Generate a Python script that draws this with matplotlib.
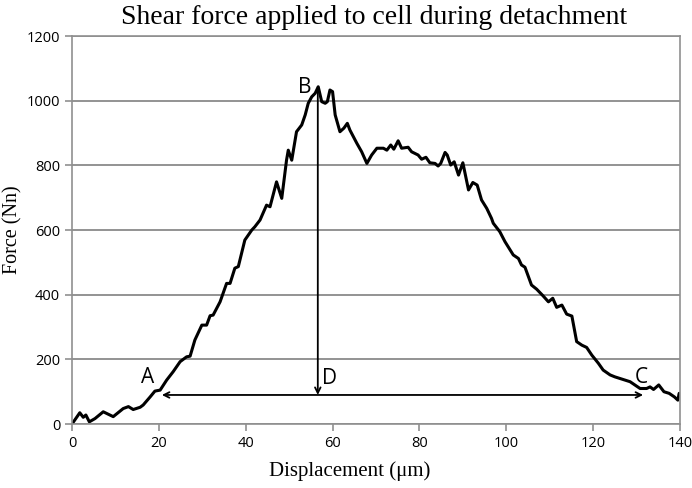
import matplotlib.pyplot as plt

# displacement (um) and force (Nn)
disp = [0, 1.8, 2.6, 3.2, 4.0, 5.3, 7.2, 8.7, 9.5, 11.8, 13.0, 14.1, 15.7, 16.4,
        18.0, 19.1, 20.3, 21.8, 23.3, 24.9, 26.4, 27.2, 28.3, 29.9, 31.0, 31.8,
        32.5, 34.1, 35.6, 36.4, 37.5, 38.3, 39.8, 41.4, 42.1, 43.3, 44.8, 45.6,
        47.1, 48.3, 49.4, 49.8, 50.6, 51.7, 52.9, 53.7, 54.4, 55.2, 56.0, 56.7,
        57.5, 58.3, 58.8, 59.4, 60.0, 60.6, 61.7, 62.6, 63.4, 64.0, 65.6, 66.7,
        67.9, 69.0, 70.2, 71.7, 72.5, 73.4, 74.1, 75.1, 75.9, 77.4, 78.2, 79.7,
        80.5, 81.5, 82.4, 83.6, 84.3, 84.9, 85.9, 86.4, 87.2, 88.0, 89.0, 90.0,
        91.3, 92.3, 93.3, 94.3, 95.5, 96.6, 97.0, 98.5, 99.7, 100.9, 101.6,
        102.8, 103.5, 104.3, 105.8, 107.0, 108.5, 109.7, 110.7, 111.6, 112.8,
        113.9, 115.1, 116.2, 117.4, 118.5, 119.7, 121.2, 122.3, 123.9, 125.0,
        126.9, 128.5, 129.6, 130.8, 132.3, 133.1, 133.9, 135.1, 136.3, 137.5,
        138.7, 139.5, 139.8, 140.0]
force = [0, 35, 21, 28, 7, 17, 38, 28, 23, 48, 54, 45, 52, 59,
         84, 102, 105, 136, 162, 193, 208, 210, 260, 306, 306, 335,
         337, 378, 435, 435, 482, 487, 569, 600, 610, 631, 677, 672,
         749, 698, 816, 847, 816, 904, 925, 956, 992, 1012, 1023, 1043,
         997, 992, 997, 1033, 1028, 956, 904, 915, 930, 909, 868, 842,
         806, 832, 853, 853, 847, 863, 850, 876, 853, 856, 842, 832,
         819, 825, 808, 806, 798, 806, 840, 832, 801, 811, 770, 808,
         724, 747, 739, 693, 667, 636, 621, 595, 564, 538, 523,
         512, 492, 485, 430, 417, 396, 378, 389, 361, 368,
         340, 334, 255, 244, 237, 213, 188, 167, 152, 146,
         138, 131, 121, 110, 110, 115, 107, 121, 100, 95,
         84, 74, 95, 90]

x_ticks = [0, 20, 40, 60, 80, 100, 120, 140]
y_ticks = [0, 200, 400, 600, 800, 1000, 1200]

# annotation points
peak_x, peak_y = 56.6, 1043
span_start, span_end, span_y = 20.7, 131.5, 90
labels = {"A": (17.5, 145), "B": (53.6, 1040), "C": (131.2, 145), "D": (59.4, 142)}

fig = plt.figure(figsize=(6.92, 4.88), dpi=100)
ax = fig.add_axes([0.104, 0.131, 0.8787, 0.7952])

ax.plot(disp, force, color="black", lw=2.2)

# vertical arrow B -> D and horizontal double arrow A <-> C
ax.annotate("", xy=(peak_x, span_y), xytext=(peak_x, peak_y),
            arrowprops=dict(arrowstyle="->", color="black", lw=1.3, shrinkA=0, shrinkB=0))
ax.annotate("", xy=(span_start, span_y), xytext=(span_end, span_y),
            arrowprops=dict(arrowstyle="<->", color="black", lw=1.3, shrinkA=0, shrinkB=0))

for name, (lx, ly) in labels.items():
    ax.text(lx, ly, name, fontsize=15, family="Open Sans", ha="center", va="center")

ax.set_xlim(0, 140)
ax.set_ylim(0, 1200)
ax.set_xticks(x_ticks)
ax.set_yticks(y_ticks)
ax.yaxis.grid(True, color="#808080", lw=1.2)
ax.set_axisbelow(True)
for s in ax.spines.values():
    s.set_color("#909090")
    s.set_linewidth(1.2)
ax.tick_params(colors="#909090", labelcolor="black", length=5, width=1.2, labelsize=10.5)
for lab in ax.get_xticklabels() + ax.get_yticklabels():
    lab.set_family("Open Sans")

ax.set_xlabel("Displacement (\u03bcm)", fontsize=15, family="Liberation Serif")
ax.xaxis.set_label_coords(0.456, -0.095)
ax.set_ylabel("Force (Nn)", fontsize=14.5, family="Liberation Serif")
ax.yaxis.set_label_coords(-0.082, 0.5)
fig.suptitle("Shear force applied to cell during detachment", fontsize=20,
             family="Liberation Serif", x=0.54, y=0.99)

plt.savefig("out.png", dpi=100)
